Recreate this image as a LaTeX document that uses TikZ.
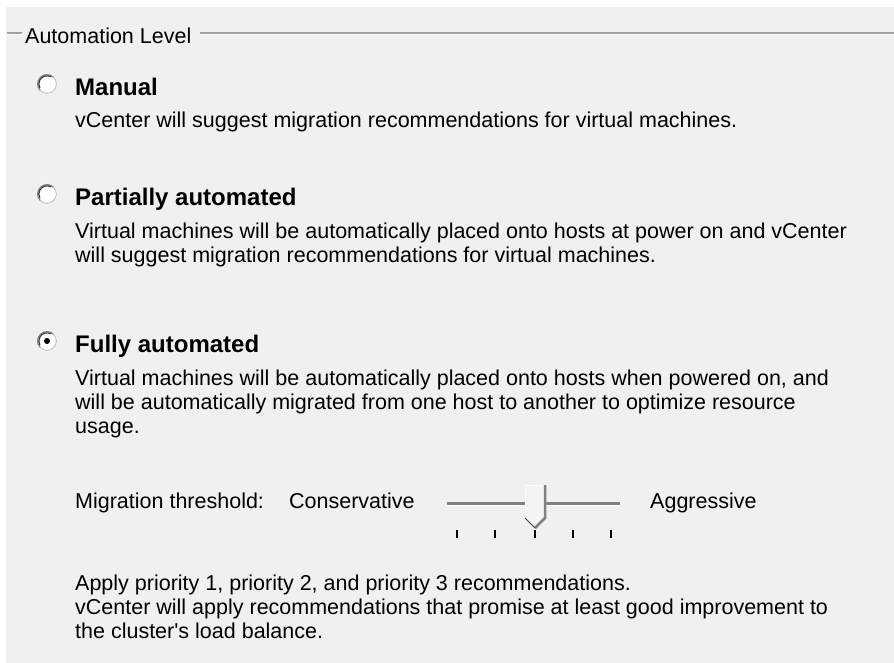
\documentclass[tikz,border=0pt]{standalone}
\usepackage{fontspec}
\setmainfont{Liberation Sans}
\definecolor{bg}{HTML}{F0F0F0}
\definecolor{etch}{HTML}{A0A0A0}
\definecolor{shadow}{HTML}{808080}
\definecolor{dark}{HTML}{404040}
\definecolor{thumbfill}{HTML}{F4F4F4}
\begin{document}
\begin{tikzpicture}[x=1pt,y=-1pt,
  txt/.style={anchor=base west, inner sep=0pt, font=\fontsize{21.5}{24}\selectfont},
  bld/.style={anchor=base west, inner sep=0pt, font=\fontsize{24}{26}\selectfont\bfseries},
  radio/.style={circle, minimum size=20pt, inner sep=0pt, fill=white, draw=white, line width=1pt},
  tick/.style={line width=2pt, black}]
\useasboundingbox (0,0) rectangle (894,662);
\fill[white] (-5,-5) rectangle (900,670);
\fill[bg] (6,7) rectangle (900,670);

% group title and etched line
\node[txt] (title) at (25,43) {Automation Level};
\coordinate (gl) at (7,33);
\coordinate (gr) at (900,33);
\draw[etch, line width=1.2pt] (gl) -- ([xshift=-3pt]gl -| title.west);
\draw[etch, line width=1.2pt] ([xshift=8pt]gl -| title.east) -- (gr);
\draw[white, line width=1pt] ([yshift=-1.2pt]gl) -- ([xshift=-3pt,yshift=-1.2pt]gl -| title.west);
\draw[white, line width=1pt] ([xshift=8pt,yshift=-1.2pt]gl -| title.east) -- ([yshift=-1.2pt]gr);

% radio buttons
\foreach \n/\y in {r1/84, r2/194, r3/341} {
  \node[radio] (\n) at (47,\y) {};
  \draw[shadow, line width=1.2pt] (\n.center) ++(45:9.4pt) arc[start angle=45, end angle=225, radius=9.4pt];
  \draw[dark, line width=1.2pt] (\n.center) ++(60:8.2pt) arc[start angle=60, end angle=210, radius=8.2pt];
  \draw[bg!80!black, line width=1pt] (\n.center) ++(225:9.4pt) arc[start angle=225, end angle=405, radius=9.4pt];
}
\node[circle, fill=black, minimum size=6pt, inner sep=0pt] (r3dot) at (r3) {};

% Manual
\node[bld] (m1) at (75,95) {Manual};
\node[txt] (m2) at (75,127) {vCenter will suggest migration recommendations for virtual machines.};

% Partially automated
\node[bld] (p1) at (75,205) {Partially automated};
\node[txt] (p2) at (75,238) {Virtual machines will be automatically placed onto hosts at power on and vCenter};
\node[txt] (p3) at (75,262) {will suggest migration recommendations for virtual machines.};

% Fully automated
\node[bld] (f1) at (75,352) {Fully automated};
\node[txt] (f2) at (75,385) {Virtual machines will be automatically placed onto hosts when powered on, and};
\node[txt] (f3) at (75,409) {will be automatically migrated from one host to another to optimize resource};
\node[txt] (f4) at (75,433) {usage.};

% Migration threshold
\node[txt] (mt) at (75,508) {Migration threshold:};
\node[txt] (cons) at (289,508) {Conservative};
\node[txt] (aggr) at (650,508) {Aggressive};

% slider
\coordinate (tl) at (447,503);
\coordinate (tr) at (620,503);
\draw[shadow, line width=3pt] (tl) -- (tr);
\draw[white, line width=1pt] ([yshift=-2pt]tl) -- ([yshift=-2pt]tr);
\fill[thumbfill] (525,485) -- (546,485) -- (546,518) -- (535,528) -- (525,518) -- cycle;
\draw[white, line width=1pt] (525,518) -- (525,485) -- (546,485);
\draw[shadow, line width=2.5pt] (545,485) -- (545,518) -- (535,528);
\draw[dark, line width=1pt] (525,518) -- (535,528);
\foreach \x in {457,495,535,573,611} \draw[tick] (\x,530) -- (\x,538);

% bottom description
\node[txt] (b1) at (75,590) {Apply priority 1, priority 2, and priority 3 recommendations.};
\node[txt] (b2) at (75,614) {vCenter will apply recommendations that promise at least good improvement to};
\node[txt] (b3) at (75,638) {the cluster\textquotesingle s load balance.};
\end{tikzpicture}
\end{document}
